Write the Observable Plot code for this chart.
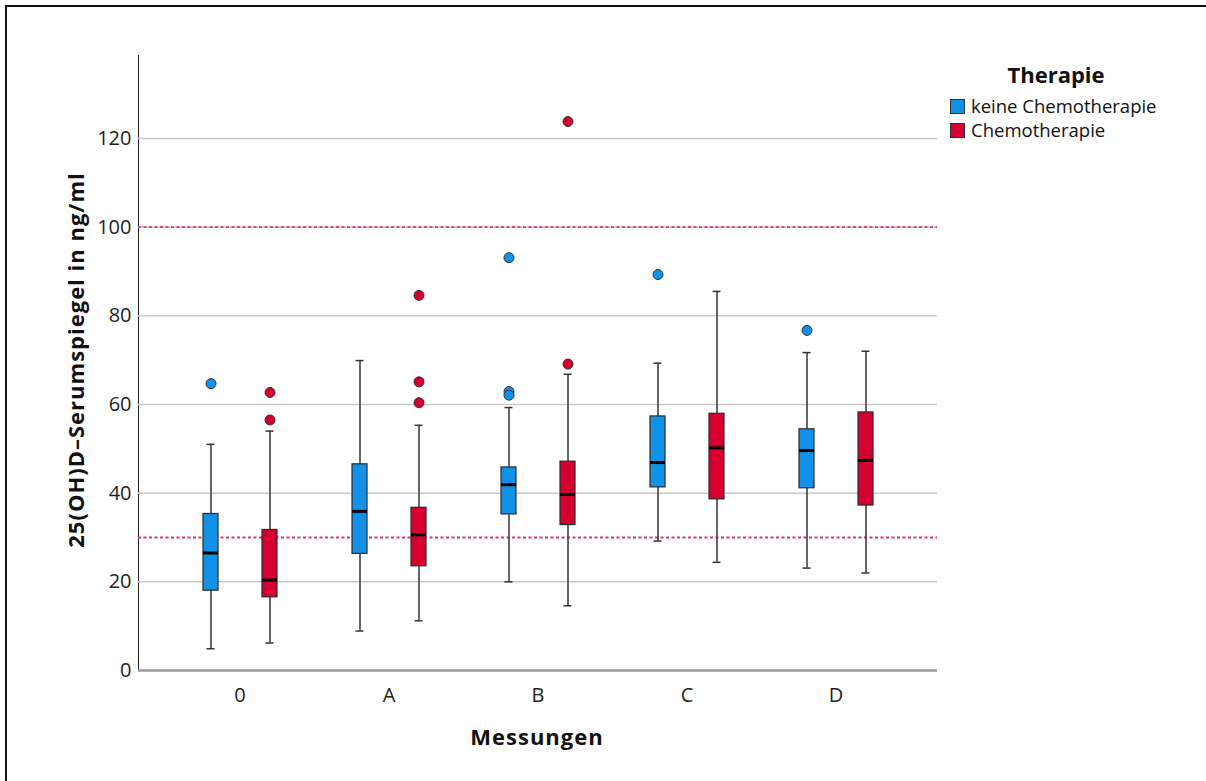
<!DOCTYPE html>
<html>
<head>
<meta charset="utf-8">
<script src="https://cdn.jsdelivr.net/npm/d3@7"></script>
<script src="https://cdn.jsdelivr.net/npm/@observablehq/plot@0.6"></script>
<style>
  html, body { margin: 0; padding: 0; background: #fff; }
  #wrap { position: relative; width: 1206px; height: 781px; overflow: hidden; font-family: "Open Sans", sans-serif; color: #111; }
  #border { position: absolute; left: 5px; top: 5px; width: 1300px; height: 900px; border-left: 2px solid #111; border-top: 2px solid #111; }
  .layer { position: absolute; left: 0; top: 0; }
  .title { position: absolute; font-weight: 700; font-size: 22px; letter-spacing: 1px; white-space: nowrap; }
  #ytitle { left: 75px; top: 360px; transform: translate(-50%, -50%) rotate(-90deg); }
  #xtitle { left: 537px; top: 736px; transform: translate(-50%, -50%); }
  #legend { position: absolute; left: 950px; top: 58px; }
  #legend .lt { font-weight: 700; font-size: 22px; line-height: 32px; text-align: center; width: 212px; margin-bottom: 4px; }
  #legend .item { display: flex; align-items: center; font-size: 18.5px; line-height: 24px; height: 24px; }
  #legend .sw { width: 15px; height: 15px; border: 1px solid #333; margin-right: 6px; box-sizing: border-box; }
</style>
</head>
<body>
<div id="wrap">
  <div class="layer" id="back"></div>
  <div class="layer" id="front"></div>
  <div id="border"></div>
  <div class="title" id="ytitle">25(OH)D–Serumspiegel in ng/ml</div>
  <div class="title" id="xtitle">Messungen</div>
  <div id="legend"></div>
</div>
<script>
// Measurement time points and therapy groups
const messungen = ["0", "A", "B", "C", "D"];
const therapien = ["keine Chemotherapie", "Chemotherapie"];
const farben = ["#1192e8", "#d5002f"];

// Box-plot summaries (ng/ml), one entry per measurement
const keineMin    = [4.9, 8.9, 20.0, 29.2, 23.1];
const keineQ1     = [18.0, 26.3, 35.2, 41.3, 41.1];
const keineMedian = [26.5, 35.9, 41.9, 46.9, 49.6];
const keineQ3     = [35.3, 46.5, 45.8, 57.3, 54.4];
const keineMax    = [51.0, 69.9, 59.3, 69.3, 71.7];

const chemoMin    = [6.2, 11.2, 14.6, 24.4, 22.0];
const chemoQ1     = [16.5, 23.5, 32.8, 38.6, 37.2];
const chemoMedian = [20.4, 30.6, 39.7, 50.2, 47.4];
const chemoQ3     = [31.7, 36.7, 47.1, 57.9, 58.2];
const chemoMax    = [54.0, 55.3, 66.8, 85.5, 72.0];

// Outliers per measurement
const keineAusreisser = [[64.7], [], [93.1, 62.9, 62.1], [89.3], [76.7]];
const chemoAusreisser = [[62.7, 56.5], [84.6, 65.1, 60.4], [123.8, 69.1], [], []];

// Reference range limits
const grenzen = [30, 100];
const yTicks = [0, 20, 40, 60, 80, 100, 120];
const yDomain = [0, 138.7];

const boxes = [];
const outliers = [];
messungen.forEach((m, i) => {
  boxes.push({messung: m, therapie: therapien[0], lo: keineMin[i], q1: keineQ1[i], med: keineMedian[i], q3: keineQ3[i], hi: keineMax[i]});
  boxes.push({messung: m, therapie: therapien[1], lo: chemoMin[i], q1: chemoQ1[i], med: chemoMedian[i], q3: chemoQ3[i], hi: chemoMax[i]});
  keineAusreisser[i].forEach(v => outliers.push({messung: m, therapie: therapien[0], value: v}));
  chemoAusreisser[i].forEach(v => outliers.push({messung: m, therapie: therapien[1], value: v}));
});

const frame = {
  width: 1206,
  height: 781,
  marginLeft: 138,
  marginRight: 269,
  marginTop: 55,
  marginBottom: 111,
  style: {fontFamily: "Open Sans, sans-serif", fontSize: "20px", color: "#222", background: "transparent"}
};

// Background layer: y axis, grid lines, reference limits and baseline across the full plot width
const back = Plot.plot({
  ...frame,
  x: {domain: messungen, axis: null},
  y: {domain: yDomain, ticks: yTicks, tickSize: 0, tickPadding: 7, label: null, line: true},
  marks: [
    Plot.ruleY(yTicks.slice(1), {stroke: "#c9c9c9", strokeWidth: 1.5}),
    Plot.ruleY(grenzen, {stroke: "#e5336b", strokeWidth: 1.8, strokeDasharray: "3,2.5"}),
    Plot.ruleY([0], {stroke: "#999", strokeWidth: 2.5})
  ]
});
document.getElementById("back").appendChild(back);

// Front layer: one facet per measurement, one box per therapy group
const front = Plot.plot({
  ...frame,
  fx: {domain: messungen, paddingInner: 0, paddingOuter: 0.177, label: null, axis: "bottom", tickSize: 0, tickPadding: 17},
  x: {domain: therapien, paddingInner: 0.75, paddingOuter: 0.62, axis: null},
  y: {domain: yDomain, axis: null},
  color: {domain: therapien, range: farben},
  marks: [
    Plot.ruleX(boxes, {fx: "messung", x: "therapie", y1: "lo", y2: "hi", stroke: "#333", strokeWidth: 1.5}),
    Plot.tickY(boxes, {fx: "messung", x: "therapie", y: "lo", stroke: "#333", strokeWidth: 1.5, insetLeft: 3.5, insetRight: 3.5}),
    Plot.tickY(boxes, {fx: "messung", x: "therapie", y: "hi", stroke: "#333", strokeWidth: 1.5, insetLeft: 3.5, insetRight: 3.5}),
    Plot.barY(boxes, {fx: "messung", x: "therapie", y1: "q1", y2: "q3", fill: "therapie", stroke: "#2a2a2a", strokeWidth: 1.2}),
    Plot.tickY(boxes, {fx: "messung", x: "therapie", y: "med", stroke: "#000", strokeWidth: 3}),
    Plot.dot(outliers, {fx: "messung", x: "therapie", y: "value", r: 5, fill: "therapie", stroke: "#333", strokeWidth: 1})
  ]
});
document.getElementById("front").appendChild(front);

// Legend
const legend = document.getElementById("legend");
const lt = document.createElement("div");
lt.className = "lt";
lt.textContent = "Therapie";
legend.appendChild(lt);
therapien.forEach((t, i) => {
  const item = document.createElement("div");
  item.className = "item";
  const sw = document.createElement("span");
  sw.className = "sw";
  sw.style.background = farben[i];
  const label = document.createElement("span");
  label.textContent = t;
  item.appendChild(sw);
  item.appendChild(label);
  legend.appendChild(item);
});
</script>
</body>
</html>
